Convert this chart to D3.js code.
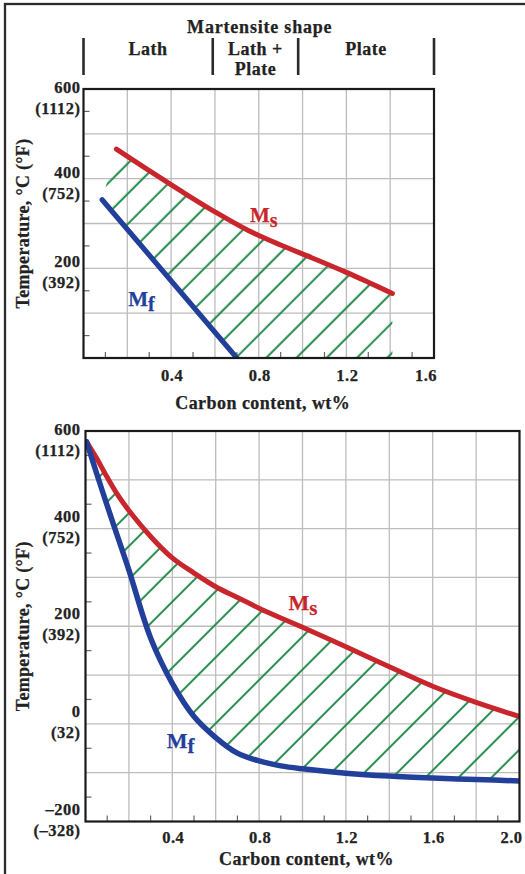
<!DOCTYPE html>
<html><head><meta charset="utf-8">
<script src="https://cdn.jsdelivr.net/npm/d3@7"></script>
<style>
html,body{margin:0;padding:0;background:#fff;}
svg{display:block;}
text{font-family:"Liberation Serif","Times New Roman",serif;font-weight:bold;fill:#222;stroke:#222;stroke-width:0.25px;}
</style></head><body>
<svg id="c" width="525" height="874"></svg>
<script>
// ---------------- data ----------------
const shapeTitle = "Martensite shape";
const shapeBounds = [0, 0.59, 0.98, 1.6];
const shapeLabels = [["Lath"], ["Lath +", "Plate"], ["Plate"]];

const xTitle = "Carbon content, wt%";
const yTitle = "Temperature, °C (°F)";

// upper chart
const topXTicks = [0.4, 0.8, 1.2, 1.6];
const topYTicks = [600, 400, 200];
const topYLabelsC = ["600", "400", "200"];
const topYLabelsF = ["(1112)", "(752)", "(392)"];
const msTopCarbon = [0.15, 0.3, 0.45, 0.6, 0.75, 0.9, 1.05, 1.2, 1.3, 1.41];
const msTopTemp   = [466, 418, 371, 326, 285, 252, 222, 191, 169, 144];
const mfTopCarbon = [0.085, 0.70];
const mfTopTemp   = [353, 0];

// lower chart
const botXTicks = [0.4, 0.8, 1.2, 1.6, 2.0];
const botYTicks = [600, 400, 200, 0, -200];
const botYLabelsC = ["600", "400", "200", "0", "\u2013200"];
const botYLabelsF = ["(1112)", "(752)", "(392)", "(32)", "(\u2013328)"];
const carbonBottom = [0.005, 0.05, 0.1, 0.15, 0.2, 0.3, 0.4, 0.5, 0.6, 0.7, 0.8, 0.9, 1.0, 1.2, 1.4, 1.6, 1.8, 2.0];
const msBottom     = [578, 545, 505, 468, 437, 384, 340, 309, 281, 259, 237, 217, 198, 158, 117, 77, 44, 15];
const mfBottom     = [578, 515, 447, 381, 315, 176, 83, 15, -28, -60, -76, -86, -92, -101, -107, -111, -114, -117];

// label anchors in data units [carbon, temperature]
const topMsLabel = [0.76, 304], topMfLabel = [0.204, 115];
const botMsLabel = [0.935, 233], botMfLabel = [0.374, -49];

// ---------------- drawing ----------------
const RED = "#c9252c", BLUE = "#22409a", GREEN = "#23894a";
const svg = d3.select("#c");
const defs = svg.append("defs");

// outer frame
svg.append("rect").attr("x", 5).attr("y", 4).attr("width", 540).attr("height", 890)
  .attr("fill", "none").attr("stroke", "#2b2b2b").attr("stroke-width", 2.3);

function hatch(id, spacing, phase) {
  const w = spacing / Math.SQRT2, off = phase / Math.SQRT2;
  const p = defs.append("pattern").attr("id", id).attr("patternUnits", "userSpaceOnUse")
    .attr("width", w).attr("height", 20).attr("patternTransform", "rotate(45)");
  p.append("rect").attr("x", off - 1).attr("y", 0).attr("width", 2).attr("height", 20).attr("fill", GREEN);
}
hatch("hatchTop", 30.25, 19);
hatch("hatchBot", 33, 15);

function frame(cfg) {
  const {x, y, id} = cfg;
  const [x0, x1] = x.range(), [y1, y0] = y.range();
  const g = svg.append("g");
  defs.append("clipPath").attr("id", "clip" + id).append("rect")
    .attr("x", x0).attr("y", y0).attr("width", x1 - x0).attr("height", y1 - y0);
  g.selectAll(".gx").data(cfg.gridX).join("line")
    .attr("x1", d => x(d)).attr("x2", d => x(d)).attr("y1", y0).attr("y2", y1)
    .attr("stroke", "#bdbdbd").attr("stroke-width", 1.3);
  g.selectAll(".gy").data(cfg.gridY).join("line").attr("class", "gy")
    .attr("y1", d => y(d)).attr("y2", d => y(d)).attr("x1", x0).attr("x2", x1)
    .attr("stroke", "#bdbdbd").attr("stroke-width", 1.3);
  g.selectAll(".mx").data(cfg.minorX).join("line").attr("class", "mx")
    .attr("x1", d => x(d)).attr("x2", d => x(d)).attr("y1", y1).attr("y2", y1 - 6)
    .attr("stroke", "#666").attr("stroke-width", 1.2);
  g.selectAll(".my").data(cfg.minorY).join("line").attr("class", "my")
    .attr("y1", d => y(d)).attr("y2", d => y(d)).attr("x1", x0).attr("x2", x0 + 6)
    .attr("stroke", "#666").attr("stroke-width", 1.2);
  return {g, x0, x1, y0, y1};
}

function labels(cfg, fr) {
  const {x, y} = cfg;
  const g = svg.append("g");
  g.selectAll(".xt").data(cfg.xTicks).join("text")
    .attr("x", (d, i) => i === cfg.xTicks.length - 1 ? x(d) + 3 : x(d) + 1)
    .attr("y", fr.y1 + cfg.xTickDy)
    .attr("text-anchor", (d, i) => i === cfg.xTicks.length - 1 ? "end" : "middle")
    .attr("font-size", 16.5).attr("letter-spacing", 0.5)
    .text(d => d3.format(".1f")(d));
  cfg.yTicks.forEach((v, i) => {
    const base = Math.max(y(v) + cfg.yDy, fr.y0 + 3.5);
    g.append("text").attr("x", 80.5).attr("y", base).attr("text-anchor", "end")
      .attr("font-size", 16.5).attr("letter-spacing", 0.5).text(cfg.yLabC[i]);
    g.append("text").attr("x", 80.5).attr("y", base + 21).attr("text-anchor", "end")
      .attr("font-size", 16.5).attr("letter-spacing", 0.5).text(cfg.yLabF[i]);
  });
  g.append("text").attr("x", (fr.x0 + fr.x1) / 2 + 4).attr("y", fr.y1 + cfg.xTitleDy)
    .attr("text-anchor", "middle").attr("font-size", 18).attr("letter-spacing", 0.45).text(xTitle);
  g.append("text").attr("transform", `translate(29,${(fr.y0 + fr.y1) / 2}) rotate(-90)`)
    .attr("text-anchor", "middle").attr("font-size", 18).attr("letter-spacing", 0.3).text(yTitle);
}

function curveLabel(x, y, pos, main, sub, color, size) {
  const t = svg.append("text").attr("x", x(pos[0])).attr("y", y(pos[1]))
    .attr("font-size", size).style("fill", color).style("stroke", color);
  t.append("tspan").text(main);
  t.append("tspan").attr("dy", 5).attr("font-size", size - 1).text(sub);
}

const smooth = d3.curveCatmullRom.alpha(0.5);
function drawCurve(cfg, cs, ts) {
  const line = d3.line().curve(smooth).x(d => cfg.x(d[0])).y(d => cfg.y(d[1]));
  return line(cs.map((c, i) => [c, ts[i]]));
}

// ---------- upper chart ----------
const xT = d3.scaleLinear([0, 1.6], [83.5, 434]);
const yT = d3.scaleLinear([0, 600], [358, 89]);
const cfgT = {id: "T", x: xT, y: yT,
  gridX: d3.range(0.2, 1.59, 0.2), gridY: d3.range(100, 600, 100),
  minorX: d3.range(0.1, 1.6, 0.2), minorY: d3.range(50, 600, 100),
  xTicks: topXTicks, yTicks: topYTicks, yLabC: topYLabelsC, yLabF: topYLabelsF,
  xTickDy: 23, xTitleDy: 51, yDy: -1};
const frT = frame(cfgT);

const msTopPath = drawCurve(cfgT, msTopCarbon, msTopTemp);
const tail = [[msTopCarbon[msTopCarbon.length - 1], 0], [mfTopCarbon[1], mfTopTemp[1]], [mfTopCarbon[0], mfTopTemp[0]]];
const tailPath = d3.line().x(d => xT(d[0])).y(d => yT(d[1]))(tail).replace("M", "L");
svg.append("path").attr("d", msTopPath + tailPath + "Z").attr("fill", "url(#hatchTop)")
  .attr("clip-path", "url(#clipT)");

svg.append("path").attr("d", msTopPath).attr("fill", "none")
  .attr("stroke", RED).attr("stroke-width", 5).attr("stroke-linecap", "round").attr("clip-path", "url(#clipT)");
svg.append("path").attr("d", drawCurve(cfgT, mfTopCarbon, mfTopTemp)).attr("fill", "none")
  .attr("stroke", BLUE).attr("stroke-width", 5.2).attr("stroke-linecap", "round").attr("clip-path", "url(#clipT)");

svg.append("rect").attr("x", frT.x0).attr("y", frT.y0).attr("width", frT.x1 - frT.x0).attr("height", frT.y1 - frT.y0)
  .attr("fill", "none").attr("stroke", "#1a1a1a").attr("stroke-width", 2.2);
labels(cfgT, frT);
curveLabel(xT, yT, topMsLabel, "M", "s", RED, 21);
curveLabel(xT, yT, topMfLabel, "M", "f", BLUE, 21);

// header: martensite shape
const hg = svg.append("g");
hg.append("text").attr("x", xT(0.8) + 1).attr("y", 33).attr("text-anchor", "middle")
  .attr("font-size", 18).attr("letter-spacing", 0.8).text(shapeTitle);
hg.selectAll(".bar").data(shapeBounds).join("line")
  .attr("x1", d => xT(d)).attr("x2", d => xT(d)).attr("y1", 38).attr("y2", 75)
  .attr("stroke", "#2b2b2b").attr("stroke-width", 2.6);
shapeLabels.forEach((lines, i) => {
  const cx = xT((shapeBounds[i] + shapeBounds[i + 1]) / 2);
  lines.forEach((s, j) => {
    hg.append("text").attr("x", cx).attr("y", 55 + j * 20).attr("text-anchor", "middle")
      .attr("font-size", 18).attr("letter-spacing", 0.5).text(s);
  });
});

// ---------- lower chart ----------
const xB = d3.scaleLinear([0, 2.0], [85.5, 519.5]);
const yB = d3.scaleLinear([-200, 600], [821.5, 431]);
const cfgB = {id: "B", x: xB, y: yB,
  gridX: d3.range(0.2, 1.99, 0.2), gridY: d3.range(-100, 600, 100),
  minorX: d3.range(0.1, 2.0, 0.2), minorY: d3.range(-150, 600, 100),
  xTicks: botXTicks, yTicks: botYTicks, yLabC: botYLabelsC, yLabF: botYLabelsF,
  xTickDy: 21.5, xTitleDy: 43.5, yDy: -7};
const frB = frame(cfgB);

const botData = carbonBottom.map((c, i) => ({c, ms: msBottom[i], mf: mfBottom[i]}));
const area = d3.area().curve(smooth).x(d => xB(d.c)).y0(d => yB(d.mf)).y1(d => yB(d.ms));
svg.append("path").attr("d", area(botData)).attr("fill", "url(#hatchBot)").attr("clip-path", "url(#clipB)");
svg.append("path").attr("d", drawCurve(cfgB, carbonBottom, msBottom)).attr("fill", "none")
  .attr("stroke", RED).attr("stroke-width", 5).attr("stroke-linecap", "round").attr("clip-path", "url(#clipB)");
svg.append("path").attr("d", drawCurve(cfgB, carbonBottom, mfBottom)).attr("fill", "none")
  .attr("stroke", BLUE).attr("stroke-width", 5.5).attr("stroke-linecap", "round").attr("clip-path", "url(#clipB)");

svg.append("rect").attr("x", frB.x0).attr("y", frB.y0).attr("width", frB.x1 - frB.x0).attr("height", frB.y1 - frB.y0)
  .attr("fill", "none").attr("stroke", "#1a1a1a").attr("stroke-width", 2.2);
labels(cfgB, frB);
curveLabel(xB, yB, botMsLabel, "M", "s", RED, 22);
curveLabel(xB, yB, botMfLabel, "M", "f", BLUE, 22);
</script>
</body></html>
